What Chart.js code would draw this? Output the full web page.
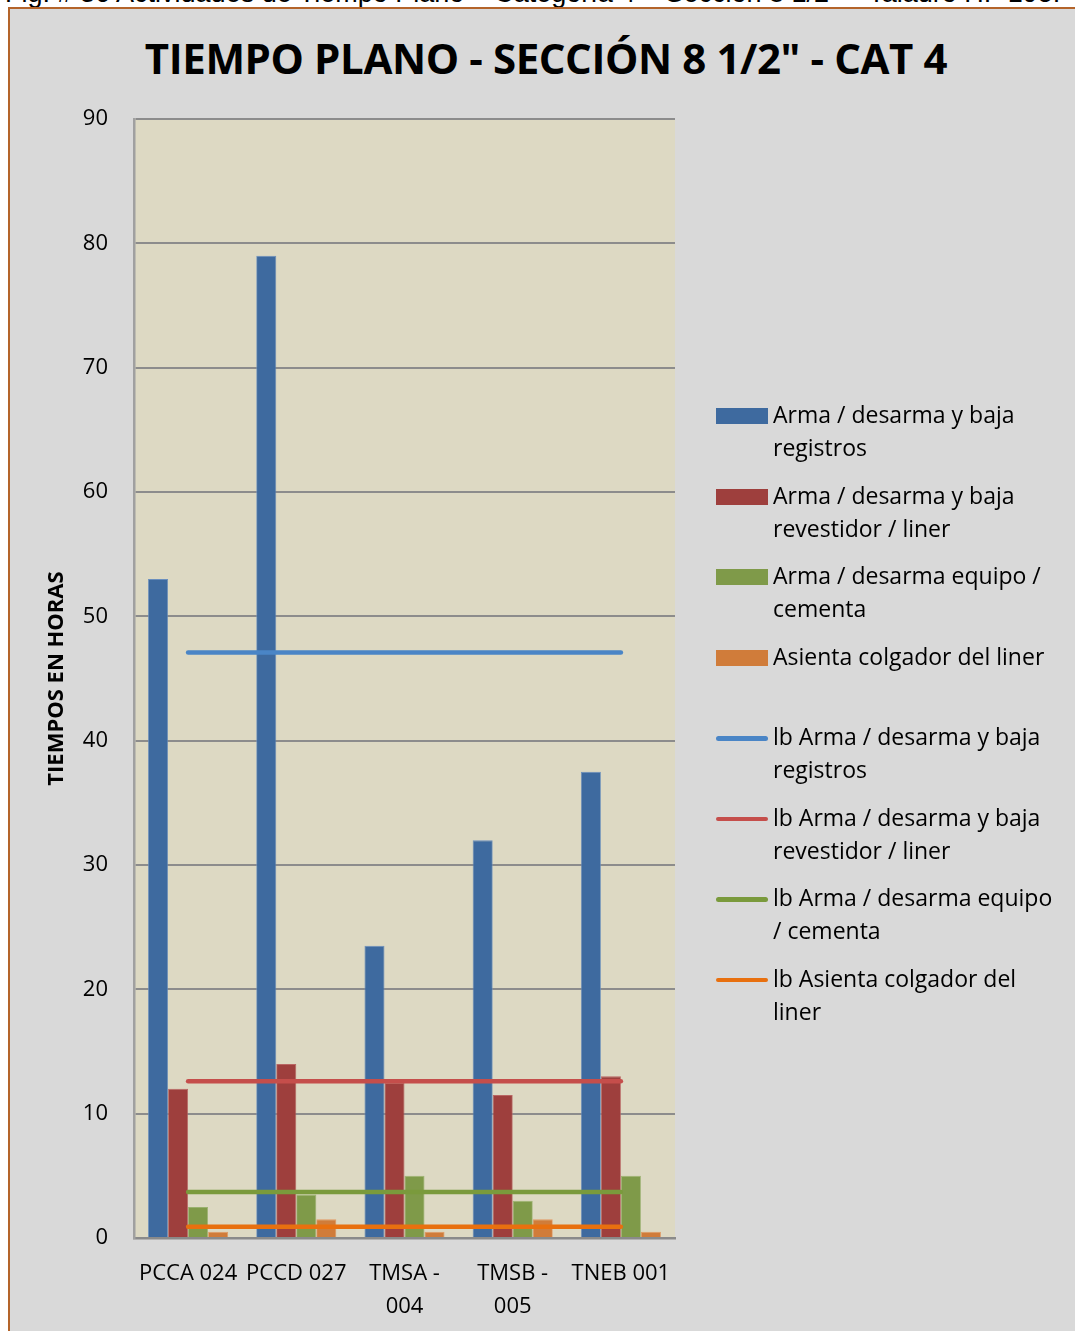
<!DOCTYPE html>
<html>
<head>
<meta charset="utf-8">
<script src="https://cdn.jsdelivr.net/npm/chart.js@4.4.1/dist/chart.umd.min.js"></script>
<style>
  html, body { margin:0; padding:0; width:1075px; height:1331px; overflow:hidden; background:#ffffff; }
  #caption { position:absolute; left:5px; top:-22px; font-family:"Liberation Sans", Arial, sans-serif; font-size:27px; color:#000; white-space:nowrap; }
  #frame { position:absolute; left:8px; top:7px; width:1080px; height:1340px; background:#d9d9d9; border-left:2px solid #b4642a; border-top:2px solid #b4642a; }
  #title { position:absolute; left:0; width:1092px; top:29px; text-align:center; font-family:"Open Sans", Lato, sans-serif; font-weight:700; font-size:42px; color:#000; white-space:nowrap; letter-spacing:-0.4px; }
  #wrap { position:absolute; left:0; top:0; width:1075px; height:1331px; }
  #legend { position:absolute; left:714px; top:398px; font-family:"Open Sans", Lato, sans-serif; font-size:23px; color:#000; }
  .item { position:relative; height:80.5px; }
  .sw { position:absolute; left:2px; width:52px; }
  .txt { position:absolute; left:59px; top:0; line-height:33px; white-space:nowrap; }
</style>
</head>
<body>
<div id="caption">Fig. # 36 Actividades de Tiempo Plano – Categoría 4 – Sección 8 1/2" – Taladro H.- 195.</div>
<div id="frame"></div>
<div id="title">TIEMPO PLANO - SECCIÓN 8 1/2" - CAT 4</div>
<div id="wrap"><canvas id="c" width="1075" height="1331"></canvas></div>
<div id="legend"></div>
<script>
// ---- data ----
const categories = [["PCCA 024"], ["PCCD 027"], ["TMSA -", "004"], ["TMSB -", "005"], ["TNEB 001"]];
const registros = [53, 79, 23.5, 32, 37.5];
const revestidor = [12, 14, 12.5, 11.5, 13];
const equipo = [2.5, 3.5, 5, 3, 5];
const colgador = [0.5, 1.5, 0.5, 1.5, 0.5];
const lbRegistros = [47.1, 47.1, 47.1, 47.1, 47.1];
const lbRevestidor = [12.6, 12.6, 12.6, 12.6, 12.6];
const lbEquipo = [3.7, 3.7, 3.7, 3.7, 3.7];
const lbColgador = [0.9, 0.9, 0.9, 0.9, 0.9];
const barLabels = [
  ["Arma / desarma y baja", "registros"],
  ["Arma / desarma y baja", "revestidor / liner"],
  ["Arma / desarma equipo /", "cementa"],
  ["Asienta colgador del liner"]
];
const lineLabels = [
  ["lb Arma / desarma y baja", "registros"],
  ["lb Arma / desarma y baja", "revestidor / liner"],
  ["lb Arma / desarma equipo", "/ cementa"],
  ["lb Asienta colgador del", "liner"]
];
const yTicks = [0, 10, 20, 30, 40, 50, 60, 70, 80, 90];
const axisTitle = "TIEMPOS EN HORAS";

const barColors = ["#3e6a9f", "#9e3f3d", "#7f9a49", "#d07c3a"];
const barEdges = ["#6a8fbe", "#b96663", "#9cb372", "#e29b64"];
const lineColors = ["#4a85c6", "#c54e4b", "#7a9a3c", "#e8700f"];

const barSeries = [registros, revestidor, equipo, colgador];
const lineSeries = [lbRegistros, lbRevestidor, lbEquipo, lbColgador];

const datasets = [];
lineSeries.forEach((d, i) => datasets.push({
  type: 'line', label: lineLabels[i].join(' '), data: d,
  borderColor: lineColors[i], backgroundColor: lineColors[i], borderWidth: 4.5,
  pointRadius: 0, borderCapStyle: 'round', fill: false, order: 0, tension: 0
}));
barSeries.forEach((d, i) => datasets.push({
  type: 'bar', label: barLabels[i].join(' '), data: d,
  backgroundColor: barColors[i], borderColor: barEdges[i], borderWidth: {top:1, left:0.8, right:0.8, bottom:0},
  order: 1, categoryPercentage: 0.74, barPercentage: 1.0
}));

const plotBg = {
  id: 'plotBg',
  beforeDraw(chart) {
    const {ctx, chartArea: a} = chart;
    ctx.save();
    ctx.fillStyle = '#ddd9c3';
    ctx.fillRect(a.left, a.top, a.right - a.left, a.bottom - a.top);
    ctx.restore();
  }
};

const tickFont = { family: "'Open Sans', Lato, sans-serif", size: 22, lineHeight: 1.5 };

new Chart(document.getElementById('c'), {
  type: 'bar',
  data: { labels: categories, datasets },
  options: {
    responsive: false, animation: false,
    layout: { padding: { left: 0, right: 400, top: 119, bottom: 0 } },
    plugins: { legend: { display: false }, tooltip: { enabled: false }, title: { display: false } },
    scales: {
      x: {
        grid: { display: false, drawTicks: false },
        border: { display: true, color: '#8a8a8a', width: 2.5 },
        ticks: { color: '#000', font: tickFont, padding: 19, maxRotation: 0, autoSkip: false },
        afterFit(s) { s.height = 93; }
      },
      y: {
        min: 0, max: 90,
        afterBuildTicks(s) { s.ticks = yTicks.map(v => ({ value: v })); },
        grid: { color: '#8c8c8c', lineWidth: 2, drawTicks: false },
        border: { display: true, color: '#a0a0a0', width: 2.5 },
        ticks: { color: '#000', font: { family: "'Open Sans', Lato, sans-serif", size: 22 }, padding: 26 },
        title: { display: true, text: axisTitle, color: '#000', font: { family: "'Open Sans', Lato, sans-serif", size: 22, weight: 'bold', lineHeight: 1.2 }, padding: { top: 44, bottom: 0 } },
        afterFit(s) { s.width = 134; }
      }
    }
  },
  plugins: [plotBg]
});

// legend (HTML)
const leg = document.getElementById('legend');
const addItem = (lines, color, isLine) => {
  const it = document.createElement('div'); it.className = 'item';
  const sw = document.createElement('div'); sw.className = 'sw';
  if (isLine) { sw.style.top = '16px'; sw.style.height = '4.5px'; sw.style.borderRadius = '3px'; }
  else { sw.style.top = '10px'; sw.style.height = '16px'; }
  sw.style.background = color;
  const tx = document.createElement('div'); tx.className = 'txt';
  tx.innerHTML = lines.map(l => l.replace(/&/g,'&amp;').replace(/</g,'&lt;')).join('<br>');
  it.appendChild(sw); it.appendChild(tx); leg.appendChild(it);
};
barLabels.forEach((l, i) => addItem(l, barColors[i], false));
lineLabels.forEach((l, i) => addItem(l, lineColors[i], true));
</script>
</body>
</html>
